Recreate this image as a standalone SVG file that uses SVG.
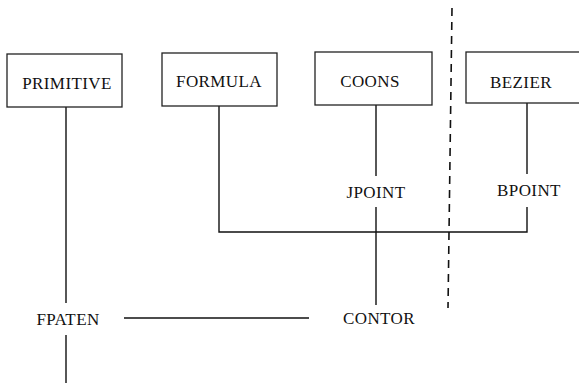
<svg xmlns="http://www.w3.org/2000/svg" width="579" height="383" viewBox="0 0 579 383">
<style>
.box{fill:#fff;stroke:#222;stroke-width:1.3}
.ln{fill:none;stroke:#111;stroke-width:1.4}
.dash{fill:none;stroke:#111;stroke-width:1.6;stroke-dasharray:8 6}
text{font-family:"Liberation Serif","Times New Roman",serif;font-size:17px;letter-spacing:0.4px;fill:#111;text-anchor:middle}
</style>
<rect width="579" height="383" fill="#fff"/>
<g id="connectors">
<path class="ln" d="M66 107V303M66 335V383"/>
<path class="ln" d="M219 106V232H527V207"/>
<path class="ln" d="M376 105V176M376 207V305"/>
<path class="ln" d="M527 103V174"/>
<path class="ln" d="M124 318H309"/>
<path class="dash" d="M452 8L448 308"/>
</g>
<g id="primitive"><rect class="box" x="7" y="54" width="115" height="53"/><text x="67" y="89">PRIMITIVE</text></g>
<g id="formula"><rect class="box" x="162" y="53" width="115" height="53"/><text x="219" y="87">FORMULA</text></g>
<g id="coons"><rect class="box" x="315" y="52" width="117" height="53"/><text x="370" y="87">COONS</text></g>
<g id="bezier"><rect class="box" x="466" y="52" width="120" height="51"/><text x="521" y="88">BEZIER</text></g>
<g id="jpoint"><text x="376" y="198">JPOINT</text></g>
<g id="bpoint"><text x="529" y="196">BPOINT</text></g>
<g id="contor"><text x="379" y="324">CONTOR</text></g>
<g id="fpaten"><text x="68" y="325">FPATEN</text></g>
</svg>
